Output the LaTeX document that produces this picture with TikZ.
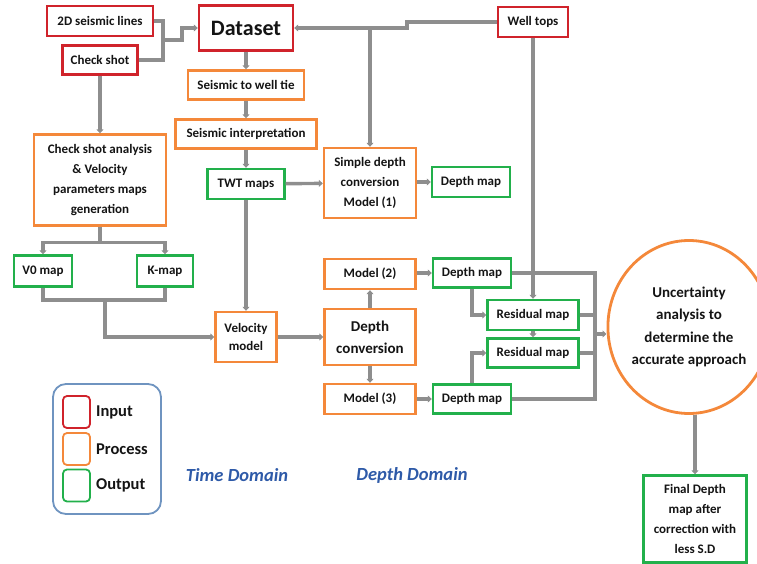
\documentclass[tikz,border=0pt]{standalone}
\usepackage{fontspec}
\setmainfont{Carlito}
\usetikzlibrary{arrows.meta,positioning,calc,shapes.geometric}
\definecolor{inred}{HTML}{D0232B}
\definecolor{procorange}{HTML}{F4883A}
\definecolor{outgreen}{HTML}{22B04B}
\definecolor{linkgray}{HTML}{8E8E8E}
\definecolor{legblue}{HTML}{6F94C0}
\definecolor{domblue}{HTML}{2E5AA8}
\begin{document}
\begin{tikzpicture}[x=1pt,y=-1pt,
  box/.style={draw,line width=2.4pt,fill=white,align=center,inner sep=0pt,text=black!92,font=\bfseries\fontsize{13}{20}\selectfont},
  inbox/.style={box,draw=inred},
  procbox/.style={box,draw=procorange},
  outbox/.style={box,draw=outgreen},
  link/.style={draw=linkgray,line width=3.4pt},
  arrow/.style={link,-{Triangle[length=4pt,width=7pt]}},
  domlabel/.style={font=\bfseries\itshape\fontsize{18.5}{20}\selectfont,text=domblue}]
  \useasboundingbox (0,0) rectangle (757,564);
  % inputs
  \node[inbox,minimum width=106,minimum height=30] (lines) at (100,21) {2D seismic lines};
  \node[inbox,minimum width=75,minimum height=29] (shot) at (100,60) {Check shot};
  \node[inbox,minimum width=94,minimum height=45,font=\bfseries\fontsize{22}{24}\selectfont] (data) at (246,28) {Dataset};
  \node[inbox,minimum width=70,minimum height=30] (tops) at (533,22) {Well tops};
  % time domain
  \node[procbox,minimum width=116,minimum height=29] (tie) at (246,85) {Seismic to well tie};
  \node[procbox,minimum width=141,minimum height=29] (interp) at (246,134) {Seismic interpretation};
  \node[outbox,minimum width=77,minimum height=30] (twt) at (246,184) {TWT maps};
  \node[procbox,minimum width=132,minimum height=91] (analysis) at (100,180) {Check shot analysis\\\& Velocity\\parameters maps\\generation};
  \node[outbox,minimum width=58,minimum height=31] (v0) at (43,271) {V0 map};
  \node[outbox,minimum width=56,minimum height=31] (kmap) at (165,271) {K-map};
  \node[procbox,minimum width=61,minimum height=50,font=\bfseries\fontsize{13}{18}\selectfont] (vel) at (246,337) {Velocity\\model};
  % depth domain
  \node[procbox,minimum width=92,minimum height=70] (simple) at (370,183) {Simple depth\\conversion\\Model (1)};
  \node[outbox,minimum width=78,minimum height=30] (dmap1) at (471,182) {Depth map};
  \node[procbox,minimum width=91,minimum height=56,font=\bfseries\fontsize{15}{22}\selectfont] (dconv) at (370,337) {Depth\\conversion};
  \node[procbox,minimum width=91,minimum height=30] (model2) at (370,274) {Model (2)};
  \node[procbox,minimum width=91,minimum height=30] (model3) at (370,399) {Model (3)};
  \node[outbox,minimum width=78,minimum height=29] (dmap2) at (472,273) {Depth map};
  \node[outbox,minimum width=78,minimum height=29] (dmap3) at (472,399) {Depth map};
  \node[outbox,minimum width=91,minimum height=30] (resid1) at (533,315) {Residual map};
  \node[outbox,minimum width=91,minimum height=29] (resid2) at (533,353) {Residual map};
  \node[ellipse,draw=procorange,line width=2.8pt,fill=white,minimum width=134,minimum height=173,inner sep=0pt,align=center,text=black!92,font=\bfseries\fontsize{15}{22.5}\selectfont] (unc) at (689,327) {Uncertainty\\analysis to\\determine the\\accurate approach};
  \node[outbox,minimum width=103,minimum height=87] (final) at (695,519) {Final Depth\\map after\\correction with\\less S.D};
  % connectors
  \coordinate (j1) at (163,40);
  \draw[link] (lines.east) -| (j1);
  \draw[link] (shot.east) -| (j1);
  \draw[arrow] (j1) -- ++(19,0) |- (data.west);
  \draw[arrow] (tops.west) -- ++(-90,0) |- (data.east);
  \draw[arrow] (simple.north |- data.east) -- (simple.north);
  \draw[arrow] (data) -- (tie);
  \draw[arrow] (tie) -- (interp);
  \draw[arrow] (interp) -- (twt);
  \draw[arrow] (twt) -- (simple);
  \draw[arrow] (simple.east |- dmap1) -- (dmap1);
  \draw[arrow] (shot) -- (analysis);
  \draw[arrow] (analysis.south) -- ++(0,16) -| (v0.north);
  \draw[arrow] (analysis.south) -- ++(0,16) -| (kmap.north);
  \coordinate (merge) at (105,300);
  \draw[link] (v0.south) |- (merge);
  \draw[link] (kmap.south) |- (merge);
  \draw[arrow] (merge) |- (vel.west);
  \draw[arrow] (twt) -- (vel);
  \draw[arrow] (vel) -- (dconv);
  \draw[arrow] (dconv) -- (model2);
  \draw[arrow] (dconv) -- (model3);
  \draw[arrow] (model2.east |- dmap2) -- (dmap2);
  \draw[arrow] (model3) -- (dmap3);
  \draw[arrow] (dmap2.south) |- (resid1.west);
  \draw[arrow] (dmap3.north) |- (resid2.west);
  \draw[arrow] (tops) -- (resid1);
  \draw[arrow] (resid1) -- (resid2);
  \coordinate (bus) at (595,334);
  \foreach \src in {dmap2,resid1,resid2,dmap3}
    \draw[link] (\src.east) -| (bus);
  \draw[arrow] (bus) -- (unc.west |- bus);
  \draw[arrow] (final.north |- unc.south) -- (final.north);
  % legend
  \node[draw=legblue,line width=1.8pt,rounded corners=13pt,minimum width=108,minimum height=130] (legend) at (107,449) {};
  \foreach \c/\t/\y in {inred/Input/412,procorange/Process/449,outgreen/Output/485.5}{
    \node[draw=\c,line width=1.8pt,rounded corners=4pt,minimum width=27,minimum height=32,inner sep=0pt] (sw\t) at (76.5,\y) {};
    \node[right=5pt of sw\t,inner sep=0pt,text=black!92,font=\bfseries\fontsize{16.5}{18}\selectfont] (lab\t) {\t};
  }
  \node[domlabel] (timedom) at (237,475) {Time Domain};
  \node[domlabel] (depthdom) at (412,475) {Depth Domain};
\end{tikzpicture}
\end{document}
